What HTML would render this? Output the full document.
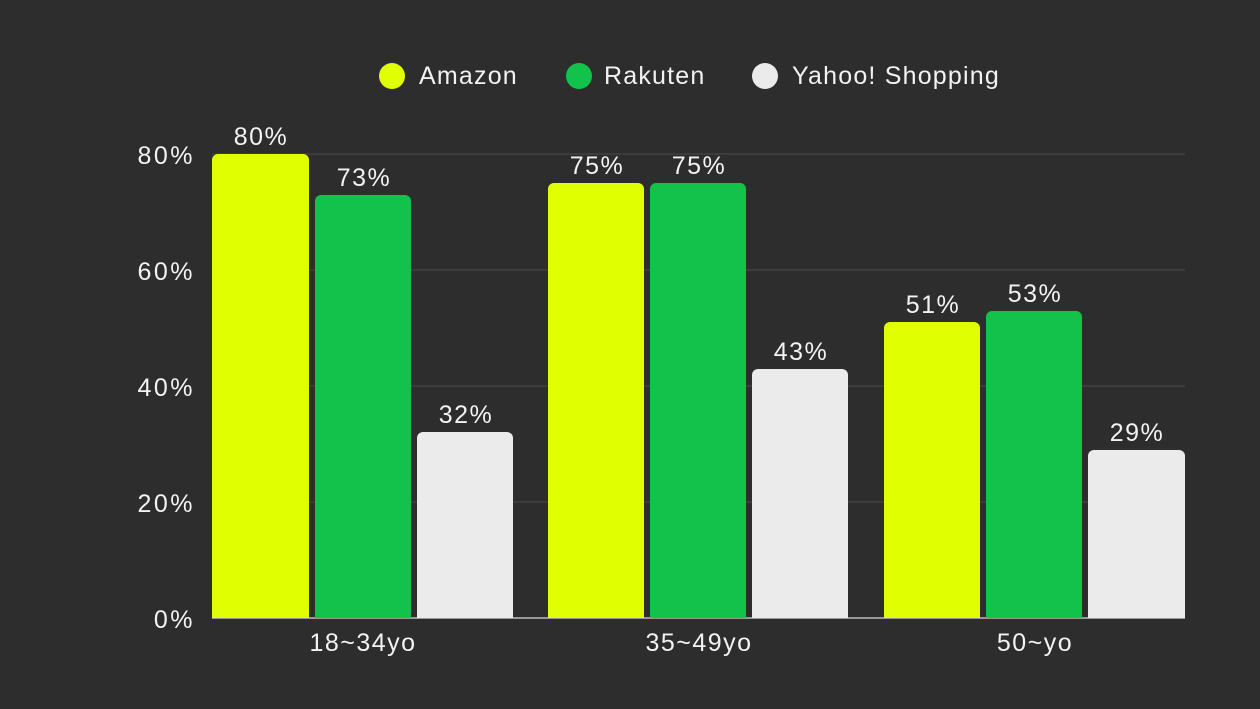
<!DOCTYPE html>
<html><head><meta charset="utf-8"><style>
html,body{margin:0;padding:0;background:#2d2d2d;}
svg{display:block;}
text{font-family:"Liberation Sans",sans-serif;fill:#f2f2f2;}
</style></head><body>
<svg width="1260" height="709" viewBox="0 0 1260 709">
<rect width="1260" height="709" fill="#2d2d2d"/>
<g stroke="#4a4a4a" stroke-width="1">
<line x1="212" y1="154" x2="1185" y2="154"/>
<line x1="212" y1="270" x2="1185" y2="270"/>
<line x1="212" y1="386" x2="1185" y2="386"/>
<line x1="212" y1="502" x2="1185" y2="502"/>
</g>
<line x1="212" y1="618" x2="1185" y2="618" stroke="#bdbdbd" stroke-width="1.5"/>
<g font-size="25" text-anchor="end" letter-spacing="2.5">
<text x="195" y="164">80%</text>
<text x="195" y="280">60%</text>
<text x="195" y="396">40%</text>
<text x="195" y="512">20%</text>
<text x="195" y="628">0%</text>
</g>
<g>
<path d="M212,618 V160 a6,6 0 0 1 6,-6 H303 a6,6 0 0 1 6,6 V618Z" fill="#e0ff00"/>
<path d="M315,618 V201 a6,6 0 0 1 6,-6 H405 a6,6 0 0 1 6,6 V618Z" fill="#12c24a"/>
<path d="M417,618 V438 a6,6 0 0 1 6,-6 H507 a6,6 0 0 1 6,6 V618Z" fill="#ebebeb"/>
<path d="M548,618 V189 a6,6 0 0 1 6,-6 H638 a6,6 0 0 1 6,6 V618Z" fill="#e0ff00"/>
<path d="M650,618 V189 a6,6 0 0 1 6,-6 H740 a6,6 0 0 1 6,6 V618Z" fill="#12c24a"/>
<path d="M752,618 V375 a6,6 0 0 1 6,-6 H842 a6,6 0 0 1 6,6 V618Z" fill="#ebebeb"/>
<path d="M884,618 V328 a6,6 0 0 1 6,-6 H974 a6,6 0 0 1 6,6 V618Z" fill="#e0ff00"/>
<path d="M986,618 V317 a6,6 0 0 1 6,-6 H1076 a6,6 0 0 1 6,6 V618Z" fill="#12c24a"/>
<path d="M1088,618 V456 a6,6 0 0 1 6,-6 H1179 a6,6 0 0 1 6,6 V618Z" fill="#ebebeb"/>
</g>
<g font-size="25" text-anchor="middle" letter-spacing="1.5">
<text x="261" y="145">80%</text>
<text x="364" y="186">73%</text>
<text x="466" y="423">32%</text>
<text x="597" y="174">75%</text>
<text x="699" y="174">75%</text>
<text x="801" y="360">43%</text>
<text x="933" y="313">51%</text>
<text x="1035" y="302">53%</text>
<text x="1137" y="441">29%</text>
<text x="363" y="651">18~34yo</text>
<text x="699" y="651">35~49yo</text>
<text x="1035" y="651">50~yo</text>
</g>
<g font-size="25" letter-spacing="1.2">
<circle cx="392" cy="76" r="13" fill="#e0ff00"/>
<text x="419" y="84">Amazon</text>
<circle cx="579" cy="76" r="13" fill="#12c24a"/>
<text x="604" y="84">Rakuten</text>
<circle cx="765" cy="76" r="13" fill="#ebebeb"/>
<text x="792" y="84">Yahoo! Shopping</text>
</g>
</svg>
</body></html>
